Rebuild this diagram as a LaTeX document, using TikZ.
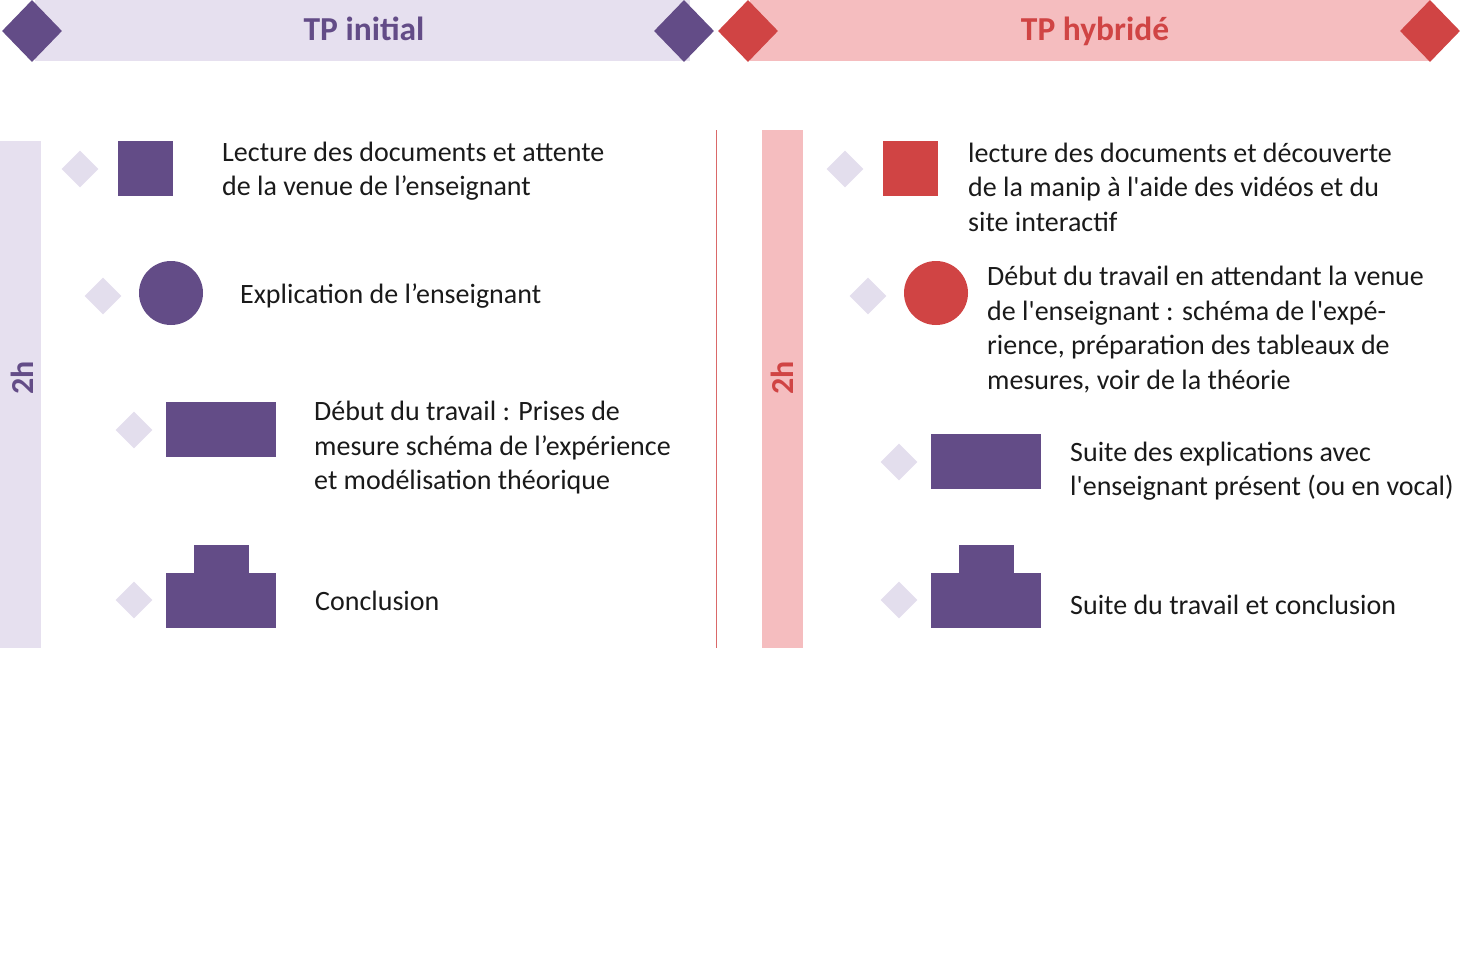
\documentclass[tikz,border=0pt]{standalone}
\usepackage{fontspec}
\setmainfont{Carlito}
\usetikzlibrary{shapes.geometric}
\newcommand{\ap}{\textquotesingle}
\definecolor{purp}{HTML}{634C87}
\definecolor{redd}{HTML}{D04444}
\definecolor{pinkk}{HTML}{F5BDBF}
\definecolor{lav}{HTML}{E6E0EF}
\definecolor{smalld}{HTML}{E3DEED}
\definecolor{txt}{HTML}{1A1A1A}
\tikzset{
  bigdia/.style={diamond,minimum width=60pt,minimum height=62pt,inner sep=0pt,draw=none},
  smalldia/.style={diamond,fill=smalld,minimum width=37pt,minimum height=37pt,inner sep=0pt,draw=none},
  label text/.style={anchor=west,inner sep=0pt,align=left,text=txt,font=\fontsize{28}{34.5}\selectfont},
  title text/.style={font=\fontsize{33.5}{38}\selectfont\bfseries,inner sep=0pt},
  hours/.style={font=\fontsize{32}{36}\selectfont\bfseries,rotate=90,inner sep=0pt},
}
\begin{document}
\begin{tikzpicture}[x=1pt,y=-1pt]
\useasboundingbox (0,0) rectangle (1461,974);
% header bands
\fill[lav] (35,0) rectangle (690,61);
\fill[pinkk] (750,0) rectangle (1430,61);
\node[bigdia,fill=purp] (hl1) at (32,31) {};
\node[bigdia,fill=purp] (hl2) at (684,31) {};
\node[bigdia,fill=redd] (hr1) at (748,31) {};
\node[bigdia,fill=redd] (hr2) at (1430,31) {};
\node[title text,text=purp,anchor=base] (tl) at (364,41) {TP initial};
\node[title text,text=redd,anchor=base] (tr) at (1095,41) {TP hybridé};
% vertical bars
\fill[lav] (0,141) rectangle (41,648);
\node[hours,text=purp] (h1) at (22,378) {2h};
\draw[redd!80,line width=1pt] (716,130) -- (716,648);
\fill[pinkk] (762,130) rectangle (803,648);
\node[hours,text=redd] (h2) at (782,378) {2h};
% left column
\node[smalldia] (ld1) at (80,169) {};
\fill[purp] (118,141) rectangle (173,196);
\node[label text] (lt1) at (222,171) {Lecture des documents et attente\\de la venue de l’enseignant};
\node[smalldia] (ld2) at (103,296) {};
\fill[purp] (171,293) circle (32);
\node[label text] (lt2) at (240,296) {Explication de l’enseignant};
\node[smalldia] (ld3) at (134,430) {};
\fill[purp] (166,402) rectangle (276,457);
\node[label text] (lt3) at (314,448) {Début du travail : Prises de\\mesure schéma de l’expérience\\et modélisation théorique};
\node[smalldia] (ld4) at (134,600) {};
\fill[purp] (166,573) rectangle (276,628);
\fill[purp] (194,545) rectangle (249,574);
\node[label text] (lt4) at (315,601) {Conclusion};
% right column
\node[smalldia] (rd1) at (845,169) {};
\fill[redd] (883,141) rectangle (938,196);
\node[label text] (rt1) at (968,187) {lecture des documents et découverte\\de la manip à l\ap aide des vidéos et du\\site interactif};
\node[smalldia] (rd2) at (868,296) {};
\fill[redd] (936,293) circle (32);
\node[label text] (rt2) at (987,329.5) {Début du travail en attendant la venue\\de l\ap enseignant : schéma de l\ap expé-\\rience, préparation des tableaux de\\mesures, voir de la théorie};
\node[smalldia] (rd3) at (899,462) {};
\fill[purp] (931,434) rectangle (1041,489);
\node[label text] (rt3) at (1070,471) {Suite des explications avec\\l\ap enseignant présent (ou en vocal)};
\node[smalldia] (rd4) at (899,600) {};
\fill[purp] (931,573) rectangle (1041,628);
\fill[purp] (959,545) rectangle (1014,574);
\node[label text] (rt4) at (1070,605) {Suite du travail et conclusion};
\end{tikzpicture}
\end{document}
